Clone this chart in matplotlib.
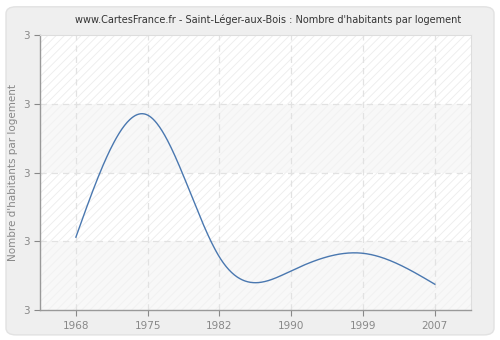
import numpy as np
import matplotlib
matplotlib.use("Agg")
import matplotlib.pyplot as plt
from matplotlib.ticker import FormatStrFormatter
from matplotlib.patches import FancyBboxPatch

years = ["1968", "1975", "1982", "1990", "1999", "2007"]
values = [2.812, 3.167, 2.754, 2.714, 2.765, 2.675]
title = "www.CartesFrance.fr - Saint-Léger-aux-Bois : Nombre d'habitants par logement"
ylabel = "Nombre d'habitants par logement"
y_ticks = [2.6, 2.8, 3.0, 3.2, 3.4]

plt.rcParams["hatch.linewidth"] = 0.6


def natural_spline(x, y, xs):
    x = np.asarray(x, float); y = np.asarray(y, float)
    n = len(x)
    h = np.diff(x)
    A = np.zeros((n, n)); r = np.zeros(n)
    A[0, 0] = 1; A[-1, -1] = 1
    for i in range(1, n - 1):
        A[i, i - 1] = h[i - 1]
        A[i, i] = 2 * (h[i - 1] + h[i])
        A[i, i + 1] = h[i]
        r[i] = 3 * ((y[i + 1] - y[i]) / h[i] - (y[i] - y[i - 1]) / h[i - 1])
    c = np.linalg.solve(A, r)
    b = np.zeros(n - 1); d = np.zeros(n - 1)
    for i in range(n - 1):
        b[i] = (y[i + 1] - y[i]) / h[i] - h[i] * (2 * c[i] + c[i + 1]) / 3
        d[i] = (c[i + 1] - c[i]) / (3 * h[i])
    idx = np.clip(np.searchsorted(x, xs) - 1, 0, n - 2)
    dx = xs - x[idx]
    return y[idx] + b[idx] * dx + c[idx] * dx ** 2 + d[idx] * dx ** 3


fig = plt.figure(figsize=(5, 3.4), dpi=100)
fig.patch.set_facecolor("white")
bg = FancyBboxPatch((0.012, 0.015), 0.976, 0.965, boxstyle="round,pad=0,rounding_size=0.02",
                    transform=fig.transFigure, facecolor="#efefef", edgecolor="#e2e2e2",
                    linewidth=1, zorder=-10)
fig.patches.append(bg)

ax = fig.add_axes([0.08, 0.0882, 0.8614, 0.8088])
ax.set_facecolor("white")
xi = np.arange(len(years))
ax.set_xlim(-0.5, len(years) - 0.5)
ax.set_ylim(y_ticks[0], y_ticks[-1])

# alternating bands
for k in range(len(y_ticks) - 1):
    lo, hi = y_ticks[k], y_ticks[k + 1]
    if k % 2 == 0:
        ax.axhspan(lo, hi, facecolor="#f8f8f8", edgecolor="#f1f1f1", hatch="////", linewidth=0, zorder=0)
    else:
        ax.axhspan(lo, hi, facecolor="white", edgecolor="#ececec", hatch="////", linewidth=0, zorder=0)

for t in y_ticks[1:-1]:
    ax.axhline(t, color="#e2e2e2", linestyle=(0, (5, 4)), linewidth=0.9, zorder=1)
for x in xi:
    ax.axvline(x, color="#e2e2e2", linestyle=(0, (5, 4)), linewidth=0.9, zorder=1)

xs = np.linspace(0, len(years) - 1, 400)
ys = natural_spline(xi, values, xs)
ax.plot(xs, ys, color="#4a78b0", linewidth=1.0, zorder=3)

ax.set_xticks(xi)
ax.set_xticklabels(years)
ax.set_yticks(y_ticks)
ax.yaxis.set_major_formatter(FormatStrFormatter("%.0f"))
ax.tick_params(axis="both", colors="#888888", labelsize=7.5, length=4, width=0.8, direction="out")
ax.tick_params(axis="x", pad=4)
ax.tick_params(axis="y", pad=3)
for s in ["left", "bottom"]:
    ax.spines[s].set_color("#999999")
    ax.spines[s].set_linewidth(1)
for s in ["top", "right"]:
    ax.spines[s].set_color("#dddddd")
    ax.spines[s].set_linewidth(0.8)

ax.set_ylabel(ylabel, color="#888888", fontsize=7.5, labelpad=4)
fig.text(0.536, 0.942, title, ha="center", va="center", fontsize=7, color="#333333")

fig.savefig("out.png", dpi=100)
